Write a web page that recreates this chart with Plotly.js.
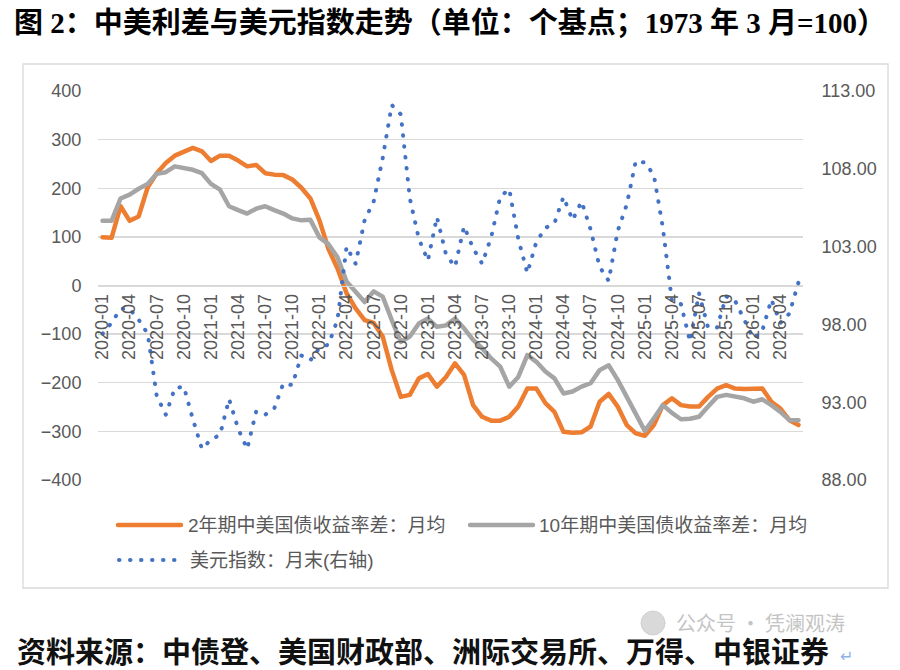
<!DOCTYPE html>
<html>
<head>
<meta charset="utf-8">
<script src="https://cdn.plot.ly/plotly-3.0.1.min.js"></script>
<style>
  html, body { margin: 0; padding: 0; background: #ffffff; }
  #chart { width: 900px; height: 670px; }
  .js-line { stroke-linecap: round; stroke-linejoin: round; }
  .shapelayer path { stroke-linecap: round; }
</style>
</head>
<body>
<div id="chart"></div>
<script>
// ---- data ----
const months = [
  '2020-01','2020-02','2020-03','2020-04','2020-05','2020-06','2020-07','2020-08','2020-09','2020-10','2020-11','2020-12',
  '2021-01','2021-02','2021-03','2021-04','2021-05','2021-06','2021-07','2021-08','2021-09','2021-10','2021-11','2021-12',
  '2022-01','2022-02','2022-03','2022-04','2022-05','2022-06','2022-07','2022-08','2022-09','2022-10','2022-11','2022-12',
  '2023-01','2023-02','2023-03','2023-04','2023-05','2023-06','2023-07','2023-08','2023-09','2023-10','2023-11','2023-12',
  '2024-01','2024-02','2024-03','2024-04','2024-05','2024-06','2024-07','2024-08','2024-09','2024-10','2024-11','2024-12',
  '2025-01','2025-02','2025-03','2025-04','2025-05','2025-06','2025-07','2025-08','2025-09','2025-10','2025-11','2025-12',
  '2026-01','2026-02','2026-03','2026-04','2026-05','2026-06'
];

const tickLabels = [
  '2020-01','2020-04','2020-07','2020-10','2021-01','2021-04','2021-07','2021-10',
  '2022-01','2022-04','2022-07','2022-10','2023-01','2023-04','2023-07','2023-10',
  '2024-01','2024-04','2024-07','2024-10','2025-01','2025-04','2025-07','2025-10',
  '2026-01','2026-04'
];

// 2年期中美国债收益率差（月均，基点）
const spread2y = [
   99,  98, 163, 133, 142, 202, 231, 252, 267, 274, 283, 276,
  256, 267, 267, 257, 245, 248, 231, 228, 227, 218, 201, 179,
  134,  75,  35, -16, -47, -71, -77,-105,-174,-229,-225,-191,
 -182,-208,-188,-160,-184,-246,-270,-278,-278,-270,-249,-212,
 -212,-242,-260,-301,-303,-302,-290,-239,-223,-249,-287,-304,
 -309,-287,-246,-232,-246,-249,-249,-229,-212,-205,-212,-213,
 -213,-212,-239,-253,-277,-287
];

// 10年期中美国债收益率差（月均，基点）
const spread10y = [
  133, 133, 179, 187, 199, 209, 230, 233, 245, 242, 238, 231,
  209, 197, 163, 155, 148, 158, 163, 155, 148, 138, 134, 135,
   99,  85,  58,   8, -12, -34, -12, -23, -71,-116,-105, -78,
  -68, -85, -82, -68, -88,-112,-129,-150,-167,-208,-188,-143,
 -157,-177,-191,-222,-218,-208,-201,-174,-164,-194,-229,-263,
 -299,-273,-246,-262,-275,-274,-270,-249,-229,-225,-229,-232,
 -239,-234,-246,-260,-277,-277
];

// 美元指数（月末，右轴）
const dollarIndex = [
  97.4, 98.1, 99.0, 99.0, 98.3, 97.4, 93.4, 92.2, 93.9, 94.0, 91.9, 90.0,
  90.6, 90.9, 93.2, 91.3, 90.0, 92.4, 92.2, 92.6, 94.2, 94.1, 96.0, 95.7,
  96.5, 96.7, 98.3, 103.0, 101.9, 104.7, 105.9, 108.7, 112.1, 111.5, 106.1, 103.5,
  102.1, 104.9, 102.5, 101.7, 104.3, 102.9, 101.9, 103.6, 106.2, 106.7, 103.5, 101.3,
  103.3, 104.2, 104.5, 106.2, 104.7, 105.9, 104.1, 101.7, 100.8, 104.0, 105.7, 108.5,
  108.4, 107.6, 104.2, 99.5, 99.3, 96.9, 100.0, 97.8, 97.8, 99.8, 99.5, 98.3,
  97.1, 97.6, 99.6, 98.1, 98.7, 100.7
];

const seriesNames = ['2年期中美国债收益率差：月均', '10年期中美国债收益率差：月均', '美元指数：月末(右轴)'];
const seriesColors = ['#ED7D31', '#A5A5A5', '#4472C4'];
const titleText = '<b>图 2：中美利差与美元指数走势（单位：个基点；1973 年 3 月=100）</b>';
const sourceText = '<b>资料来源：中债登、美国财政部、洲际交易所、万得、中银证券</b>';

// ---- layout geometry ----
const W = 900, H = 670;
const M = { l: 98, r: 97, t: 91, b: 190 };
const pw = W - M.l - M.r, ph = H - M.t - M.b;
const px2x = px => (px - M.l) / pw;
const py2y = py => (H - M.b - py) / ph;

const axisFont = { family: 'Liberation Sans, Arial, sans-serif', size: 18, color: '#595959' };
const legendFont = { family: 'Liberation Sans, Noto Sans CJK SC, sans-serif', size: 19, color: '#595959' };
const dotDash = '0.5px,10.5px';

const traces = [
  { x: months, y: spread2y, type: 'scatter', mode: 'lines', name: seriesNames[0],
    line: { color: seriesColors[0], width: 4.5 }, yaxis: 'y', hoverinfo: 'skip' },
  { x: months, y: spread10y, type: 'scatter', mode: 'lines', name: seriesNames[1],
    line: { color: seriesColors[1], width: 4.5 }, yaxis: 'y', hoverinfo: 'skip' },
  { x: months, y: dollarIndex, type: 'scatter', mode: 'lines', name: seriesNames[2],
    line: { color: seriesColors[2], width: 4, dash: dotDash }, yaxis: 'y2', hoverinfo: 'skip' }
];

// manual legend (Excel style, long samples)
const legendItems = [
  { x0: 118, x1: 181, tx: 186, y: 525, i: 0 },
  { x0: 470, x1: 533, tx: 537, y: 525, i: 1 },
  { x0: 119, x1: 176, tx: 188, y: 560, i: 2 }
];

const shapes = [
  // chart frame
  { type: 'rect', xref: 'paper', yref: 'paper',
    x0: px2x(23), x1: px2x(888), y0: py2y(588), y1: py2y(64),
    line: { color: '#d9d9d9', width: 1.3 }, fillcolor: 'rgba(0,0,0,0)', layer: 'below' }
];
const annotations = [];

legendItems.forEach(it => {
  shapes.push({
    type: 'line', xref: 'paper', yref: 'paper',
    x0: px2x(it.x0), x1: px2x(it.x1), y0: py2y(it.y), y1: py2y(it.y),
    line: { color: seriesColors[it.i], width: it.i === 2 ? 4 : 4.5, dash: it.i === 2 ? dotDash : 'solid' }
  });
  annotations.push({
    xref: 'paper', yref: 'paper', x: px2x(it.tx), y: py2y(it.y),
    xanchor: 'left', yanchor: 'middle', showarrow: false,
    text: seriesNames[it.i], font: legendFont
  });
});

// watermark (drawn first, behind the source line)
shapes.push({
  type: 'circle', xref: 'paper', yref: 'paper',
  x0: px2x(641), x1: px2x(665), y0: py2y(635), y1: py2y(611),
  line: { color: '#d0d0d0', width: 1 }, fillcolor: '#d9d9d9'
});
annotations.push({
  xref: 'paper', yref: 'paper', x: px2x(674), y: py2y(622),
  xanchor: 'left', yanchor: 'middle', showarrow: false,
  text: '公众号 · 凭澜观涛',
  font: { family: 'Noto Sans CJK SC, sans-serif', size: 20, color: '#c4c4c4' }
});
// source line
annotations.push({
  xref: 'paper', yref: 'paper', x: px2x(15), y: py2y(653),
  xanchor: 'left', yanchor: 'middle', showarrow: false,
  text: sourceText,
  font: { family: 'Liberation Serif, Noto Sans CJK SC, serif', size: 29, color: '#111111' }
});
annotations.push({
  xref: 'paper', yref: 'paper', x: px2x(838), y: py2y(656),
  xanchor: 'left', yanchor: 'middle', showarrow: false,
  text: '↵', font: { family: 'DejaVu Sans', size: 16, color: '#8fb2e8' }
});

const layout = {
  width: W, height: H,
  margin: M,
  paper_bgcolor: '#ffffff', plot_bgcolor: '#ffffff',
  showlegend: false,
  title: {
    text: titleText, xref: 'container', yref: 'container',
    x: 0.5, xanchor: 'center', y: 1 - 23 / H, yanchor: 'middle',
    font: { family: 'Liberation Serif, Noto Sans CJK SC, serif', size: 29, color: '#000000' }
  },
  xaxis: {
    type: 'category', range: [-0.5, months.length - 0.5],
    anchor: 'free', position: 0.5,
    tickmode: 'array', tickvals: tickLabels, ticktext: tickLabels,
    tickangle: -90, tickfont: axisFont,
    showgrid: false, zeroline: false,
    showline: true, linecolor: '#d9d9d9', linewidth: 1.3,
    ticks: '', fixedrange: true
  },
  yaxis: {
    range: [-400, 400], tick0: 0, dtick: 100,
    showgrid: true, gridcolor: '#d9d9d9', gridwidth: 1.3,
    zeroline: false, showline: false,
    ticks: 'outside', ticklen: 12, tickcolor: 'rgba(0,0,0,0)',
    tickfont: axisFont, fixedrange: true
  },
  yaxis2: {
    overlaying: 'y', side: 'right',
    range: [88, 113], tick0: 88, dtick: 5, tickformat: '.2f',
    showgrid: false, zeroline: false, showline: false,
    ticks: 'outside', ticklen: 14, tickcolor: 'rgba(0,0,0,0)',
    tickfont: axisFont, fixedrange: true
  },
  shapes: shapes,
  annotations: annotations
};

Plotly.newPlot('chart', traces, layout, { staticPlot: true, displayModeBar: false });
</script>
</body>
</html>
